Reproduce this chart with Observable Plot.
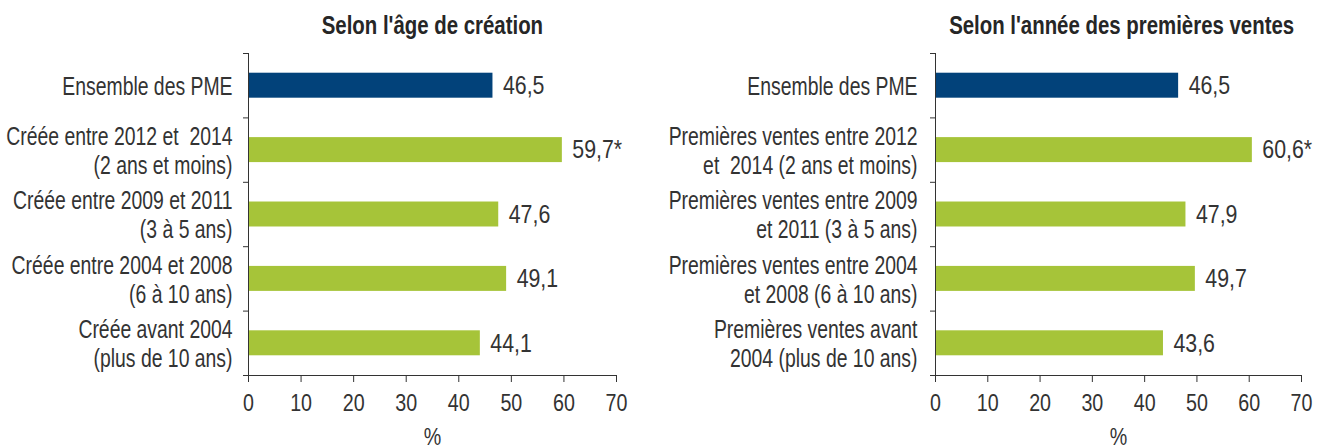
<!DOCTYPE html>
<html>
<head>
<meta charset="utf-8">
<script src="https://cdn.jsdelivr.net/npm/d3@7"></script>
<script src="https://cdn.jsdelivr.net/npm/@observablehq/plot@0.6"></script>
<style>
  html, body { margin: 0; padding: 0; background: #fff; }
  body { width: 1322px; height: 447px; overflow: hidden; font-family: "Liberation Sans", Arial, sans-serif; color: #333; }
  #wrap { display: flex; }
  .panel { width: 661px; }
  .title { height: 50px; display: flex; justify-content: center; align-items: center; white-space: nowrap; overflow: visible; box-sizing: content-box; }
  .title span { display: inline-block; flex: none; font-weight: bold; font-size: 25.5px; color: #262626; transform: scaleX(0.8); transform-origin: center; }
  svg { display: block; overflow: visible; }
</style>
</head>
<body>
<div id="wrap"></div>
<script>
// ---- Data ----
const leftTitle = "Selon l'âge de création";
const rightTitle = "Selon l'année des premières ventes";
const leftLabels = [
  "Ensemble des PME",
  "Créée entre 2012 et\u00a0 2014\n(2 ans et moins)",
  "Créée entre 2009 et 2011\n(3 à 5 ans)",
  "Créée entre 2004 et 2008\n(6 à 10 ans)",
  "Créée avant 2004\n(plus de 10 ans)"
];
const leftValues = [46.5, 59.7, 47.6, 49.1, 44.1];
const rightLabels = [
  "Ensemble des PME",
  "Premières ventes entre 2012\net\u00a0 2014 (2 ans et moins)",
  "Premières ventes entre 2009\net 2011 (3 à 5 ans)",
  "Premières ventes entre 2004\net 2008 (6 à 10 ans)",
  "Premières ventes avant\n2004 (plus de 10 ans)"
];
const rightValues = [46.5, 60.6, 47.9, 49.7, 43.6];
const significant = [false, true, false, false, false];
const groups = ["total", "sub", "sub", "sub", "sub"];
const xTicks = [0, 10, 20, 30, 40, 50, 60, 70];
const axisLabel = "%";

const colors = { total: "#02427a", sub: "#a6c439" };
const ink = "#333333";
const font = "'Liberation Sans', Arial, sans-serif";
const narrow = 0.82;      // horizontal compression to mimic a condensed typeface
const narrowLabels = 0.76; // category labels (right-aligned) are a little tighter

// Compress glyphs horizontally (keeps positions & anchors) once the svg is in the DOM
function condense(svg) {
  svg.querySelectorAll("text").forEach(el => {
    const k = el.closest('[text-anchor="end"]') ? narrowLabels : narrow;
    const spans = el.querySelectorAll("tspan");
    const targets = spans.length ? Array.from(spans) : [el];
    targets.forEach(t => {
      const w = t.getComputedTextLength();
      if (w > 0) {
        t.setAttribute("textLength", (w * k).toFixed(2));
        t.setAttribute("lengthAdjust", "spacingAndGlyphs");
      }
    });
  });
}

function buildPanel(title, labels, values, opts) {
  const rows = labels.map((label, i) => ({
    i, label, value: values[i], group: groups[i],
    text: d3.format(".1f")(values[i]).replace(".", ",") + (significant[i] ? "*" : "")
  }));
  const n = rows.length;
  const barHalf = 0.194; // half bar thickness in band units
  const plot = Plot.plot({
    width: 661,
    height: 397,
    marginTop: 3,
    marginBottom: 72,
    marginLeft: opts.marginLeft,
    marginRight: opts.marginRight,
    style: { fontFamily: font, color: ink, background: "transparent", overflow: "visible" },
    x: { domain: [0, 70], axis: null },
    y: { domain: [0, n], reverse: true, axis: null },
    marks: [
      Plot.rectX(rows, {
        x1: 0, x2: "value",
        y1: d => d.i + 0.5 - barHalf, y2: d => d.i + 0.5 + barHalf,
        fill: d => colors[d.group]
      }),
      Plot.ruleX([0], { stroke: ink, strokeWidth: 1 }),
      Plot.axisY({ ticks: d3.range(n + 1), tickSize: 5, tickFormat: () => "", stroke: ink, anchor: "left", label: null }),
      Plot.ruleY([n], { stroke: ink, strokeWidth: 1 }),
      Plot.axisX({ ticks: xTicks, tickSize: 7, tickPadding: 11, fontSize: 24, stroke: ink, fill: ink, label: null, anchor: "bottom" }),
      Plot.text(rows, {
        x: 0, y: d => d.i + 0.5, text: "label",
        textAnchor: "end", dx: opts.labelDx, fontSize: 25.5, lineHeight: 1.14, fill: ink
      }),
      Plot.text(rows, {
        x: "value", y: d => d.i + 0.5, text: "text",
        textAnchor: "start", dx: 10, fontSize: 26, fill: ink
      }),
      Plot.text([axisLabel], { frameAnchor: "bottom", dy: 69, fontSize: 24, fill: ink })
    ]
  });
  const panel = document.createElement("div");
  panel.className = "panel";
  const t = document.createElement("div");
  t.className = "title";
  t.style.paddingLeft = opts.marginLeft + "px";
  t.style.width = (661 - opts.marginLeft - opts.marginRight + opts.titleShift) + "px";
  const s = document.createElement("span");
  s.textContent = title;
  t.appendChild(s);
  panel.appendChild(t);
  panel.appendChild(plot);
  return { panel, plot };
}

const wrap = document.getElementById("wrap");
const built = [
  buildPanel(leftTitle, leftLabels, leftValues, { marginLeft: 248, marginRight: 45, labelDx: -16, titleShift: 0 }),
  buildPanel(rightTitle, rightLabels, rightValues, { marginLeft: 274, marginRight: 21, labelDx: -18, titleShift: 8 })
];
built.forEach(b => wrap.appendChild(b.panel));
built.forEach(b => condense(b.plot));
</script>
</body>
</html>
